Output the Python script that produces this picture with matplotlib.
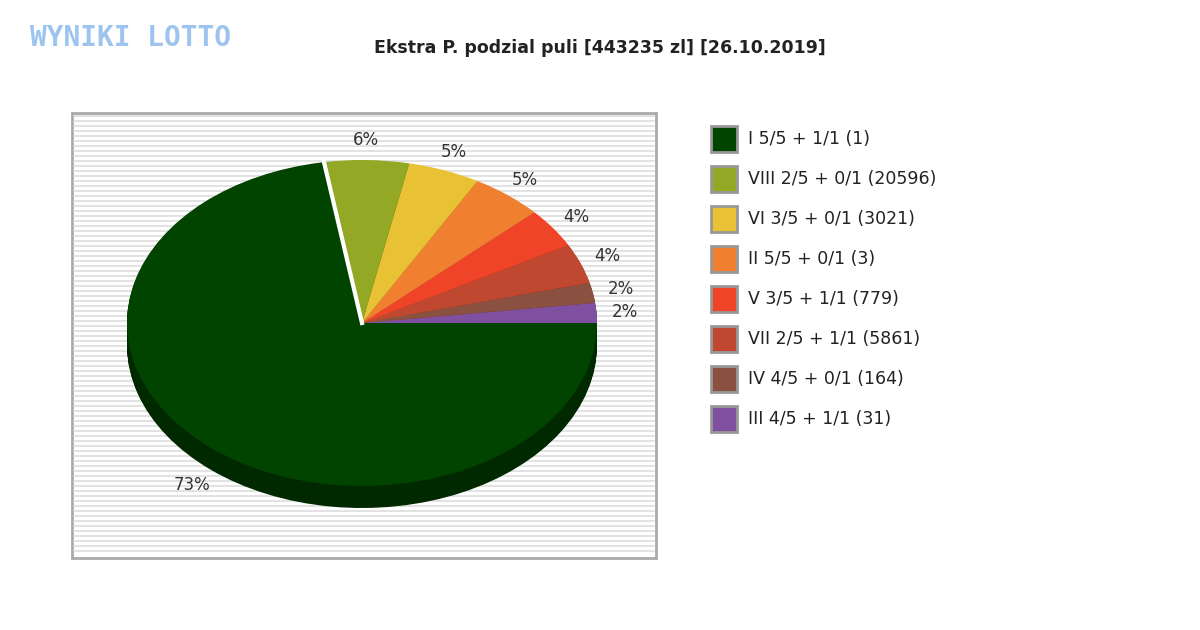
import matplotlib
matplotlib.use("Agg")
import matplotlib.pyplot as plt
from matplotlib.patches import Wedge, Rectangle
from matplotlib.transforms import Affine2D
import numpy as np

labels = ["I 5/5 + 1/1 (1)", "VIII 2/5 + 0/1 (20596)", "VI 3/5 + 0/1 (3021)",
          "II 5/5 + 0/1 (3)", "V 3/5 + 1/1 (779)", "VII 2/5 + 1/1 (5861)",
          "IV 4/5 + 0/1 (164)", "III 4/5 + 1/1 (31)"]
shares = [73, 6, 5, 5, 4, 4, 2, 2]
colors = ["#004400", "#93a824", "#e8c234", "#f08030", "#f04428", "#c04830", "#8a5040", "#8050a0"]

fig = plt.figure(figsize=(12, 6.3), dpi=100)
ax = fig.add_axes([0, 0, 1, 1])
ax.set_xlim(0, 1200); ax.set_ylim(630, 0); ax.axis("off")

ax.add_patch(Rectangle((72, 113), 584, 445, facecolor="white", edgecolor="#aaaaaa", lw=2))
for y in np.arange(116, 556, 5):
    ax.plot([74, 654], [y, y], color="#dddddd", lw=1.2, zorder=1)

cx, cy, rx, ry, depth = 362, 323, 235, 163, 22
order = list(range(len(shares)))[::-1]
total = sum(shares)
angles = []
a = 0.0
for i in order:
    span = 360 * shares[i] / total
    angles.append((i, a, a + span))
    a += span

def darker(c, f=0.6):
    r, g, b = matplotlib.colors.to_rgb(c)
    return (r * f, g * f, b * f)

def tr(dy):
    return Affine2D().scale(rx, -ry).translate(cx, cy + dy) + ax.transData

for i, a0, a1 in angles:
    for d in range(depth, 0, -1):
        ax.add_patch(Wedge((0, 0), 1, a0, a1, facecolor=darker(colors[i]), edgecolor="none",
                           transform=tr(d), zorder=2))
for i, a0, a1 in angles:
    mid = np.radians((a0 + a1) / 2)
    ax.add_patch(Wedge((0, 0), 1, a0, a1, facecolor=colors[i], edgecolor="none",
                       transform=tr(0), zorder=3))
    lx = cx + 1.12 * rx * np.cos(mid)
    ly = cy - 1.12 * ry * np.sin(mid)
    if np.sin(mid) < 0:
        ly += depth
    ax.text(lx, ly, f"{shares[i]}%", fontsize=12, color="#333333", ha="center", va="center", zorder=4)
# white gap between first slice and last
i, a0, a1 = angles[-1]
ax.plot([cx, cx + rx * np.cos(np.radians(a0 - 0.5)) * 1.01],
        [cy, cy - ry * np.sin(np.radians(a0 - 0.5)) * 1.01], color="white", lw=3, zorder=3.5)

ax.text(600, 48, "Ekstra P. podzial puli [443235 zl] [26.10.2019]", fontsize=12.5,
        fontweight="bold", ha="center", va="center", color="#222222")
ax.text(130, 38, "WYNIKI LOTTO", fontsize=20, fontweight="bold", color="#9cc4ee",
        ha="center", va="center", family="DejaVu Sans Mono")

for k, (lab, c) in enumerate(zip(labels, colors)):
    y = 139 + 40 * k
    ax.add_patch(Rectangle((711, y - 13), 26, 26, facecolor=c, edgecolor="#999999", lw=2))
    ax.text(748, y, lab, fontsize=12.5, color="#222222", va="center", ha="left")

fig.savefig("out.png", dpi=100)
